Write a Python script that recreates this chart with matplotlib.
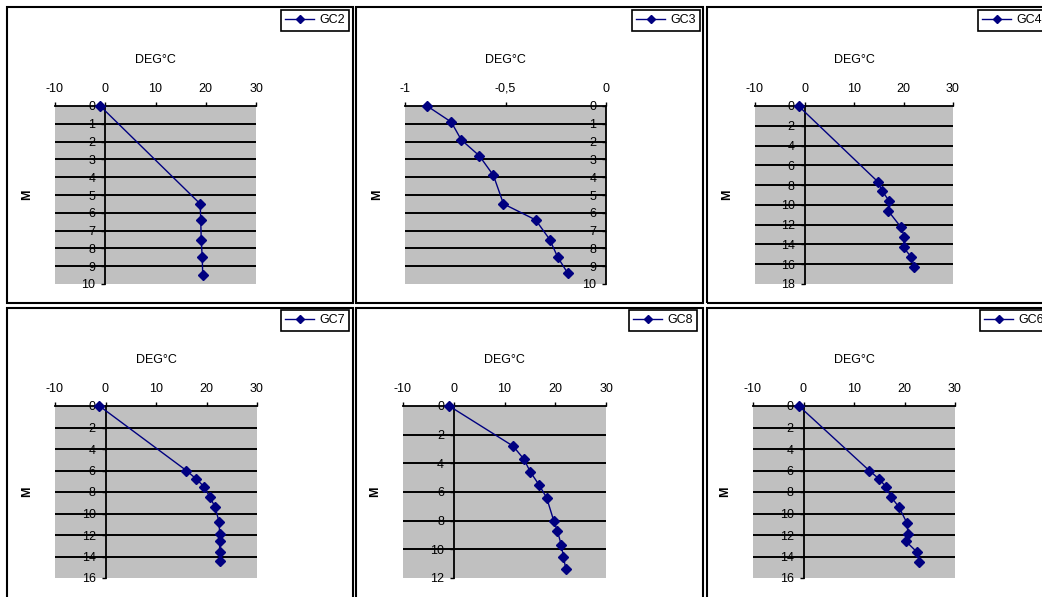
import matplotlib
matplotlib.use('Agg')
import matplotlib.pyplot as plt
from matplotlib.patches import Rectangle
from matplotlib import font_manager
import numpy as np

# ---------------- data ----------------
gc2_depth = [0, 5.5, 6.4, 7.5, 8.5, 9.5]
gc2_temp = [-1.0, 18.9, 19.0, 19.1, 19.3, 19.4]

gc3_depth = [0, 0.9, 1.9, 2.8, 3.9, 5.5, 6.4, 7.5, 8.5, 9.4]
gc3_temp = [-0.89, -0.77, -0.72, -0.63, -0.56, -0.51, -0.35, -0.28, -0.24, -0.19]

gc4_depth = [0, 7.7, 8.6, 9.6, 10.6, 12.2, 13.2, 14.3, 15.3, 16.3]
gc4_temp = [-1.2, 14.9, 15.7, 17.1, 16.9, 19.4, 20.2, 20.0, 21.6, 22.2]

gc7_depth = [0, 6.0, 6.8, 7.5, 8.5, 9.4, 10.8, 11.9, 12.6, 13.6, 14.4]
gc7_temp = [-1.2, 16.0, 18.0, 19.5, 20.7, 21.7, 22.5, 22.6, 22.6, 22.6, 22.6]

gc8_depth = [0, 2.8, 3.7, 4.6, 5.5, 6.4, 8.0, 8.7, 9.7, 10.5, 11.4]
gc8_temp = [-0.9, 11.7, 13.8, 15.1, 16.8, 18.3, 19.7, 20.4, 21.2, 21.6, 22.1]

gc6_depth = [0, 6.0, 6.8, 7.5, 8.5, 9.4, 10.9, 11.9, 12.6, 13.6, 14.5]
gc6_temp = [-0.9, 13.0, 15.0, 16.3, 17.4, 18.9, 20.5, 20.7, 20.3, 22.5, 22.9]

names = ['GC2', 'GC3', 'GC4', 'GC7', 'GC8', 'GC6']
depths = [gc2_depth, gc3_depth, gc4_depth, gc7_depth, gc8_depth, gc6_depth]
temps = [gc2_temp, gc3_temp, gc4_temp, gc7_temp, gc8_temp, gc6_temp]

temp_ticks_std = [-10, 0, 10, 20, 30]
temp_labels_std = ['-10', '0', '10', '20', '30']
temp_ticks_gc3 = [-1, -0.5, 0]
temp_labels_gc3 = ['-1', '-0,5', '0']
depth_max = [10, 10, 18, 16, 12, 16]
depth_step = [1, 1, 2, 2, 2, 2]

x_label = 'DEG°C'
y_label = 'M'

# ---------------- layout (pixels) ----------------
W, H = 1042, 597
plot_boxes = [  # left, right, top, bottom
    (55, 256, 106, 284),
    (405, 606, 106, 284),
    (755, 953, 106, 284),
    (55, 257, 406, 578),
    (403, 606, 406, 578),
    (753, 955, 406, 578),
]
panel_boxes = [  # left, right, top, bottom
    (7, 353, 7, 303),
    (356, 703, 7, 303),
    (707, 1060, 7, 303),
    (7, 353, 308, 620),
    (356, 703, 308, 620),
    (707, 1060, 308, 620),
]
legend_corner = [  # left, top of legend box
    (281, 10), (632, 10), (978, 10),
    (281, 310), (629, 310), (980, 310),
]

NAVY = '#000080'
GRAY = '#C0C0C0'
available = {f.name for f in font_manager.fontManager.ttflist}
FONT = 'Liberation Sans Narrow' if 'Liberation Sans Narrow' in available else 'Liberation Sans'
FS = 10 if FONT == 'Liberation Sans Narrow' else 9

plt.rcParams['font.family'] = [FONT, 'DejaVu Sans']

fig = plt.figure(figsize=(W / 100, H / 100), dpi=100)
fig.patch.set_facecolor('white')


def fxy(x, y):
    return x / W, 1 - y / H


for (pl, pr, pt, pb) in panel_boxes:
    x0, y1 = fxy(pl, pt)
    x1, y0 = fxy(pr, pb)
    fig.add_artist(Rectangle((x0, y0), x1 - x0, y1 - y0, transform=fig.transFigure,
                             fill=False, edgecolor='black', lw=1.5, zorder=0))

for i in range(6):
    l, r, t, b = plot_boxes[i]
    ax = fig.add_axes([l / W, 1 - b / H, (r - l) / W, (b - t) / H])
    ax.set_facecolor(GRAY)
    if names[i] == 'GC3':
        xt, xl = temp_ticks_gc3, temp_labels_gc3
    else:
        xt, xl = temp_ticks_std, temp_labels_std
    ax.set_xlim(xt[0], xt[-1])
    ax.set_ylim(depth_max[i], 0)
    yt = np.arange(0, depth_max[i] + 0.001, depth_step[i])
    ax.set_yticks(yt)
    ax.set_yticklabels([str(int(v)) for v in yt])
    ax.xaxis.tick_top()
    ax.set_xticks(xt)
    ax.set_xticklabels(xl)
    for v in yt[1:-1]:
        ax.axhline(v, color='black', lw=1.4, zorder=1)
    line, = ax.plot(temps[i], depths[i], color=NAVY, lw=1.0, marker='D', ms=5.5,
                    mfc=NAVY, mec=NAVY, label=names[i], zorder=4, clip_on=False)
    for s in ['right', 'bottom']:
        ax.spines[s].set_visible(False)
    ax.spines['top'].set_color('black')
    ax.spines['top'].set_linewidth(1.3)
    ax.spines['left'].set_position(('data', 0))
    ax.spines['left'].set_color('black')
    ax.spines['left'].set_linewidth(1.3)
    ax.spines['left'].set_zorder(3)
    ax.tick_params(axis='x', direction='out', length=3, width=1, pad=5,
                   labelsize=FS, top=True, bottom=False, labeltop=True, labelbottom=False)
    ax.tick_params(axis='y', direction='out', length=3, width=1, pad=4, labelsize=FS)

    cx = (l + r) / 2
    fx_, fy_ = fxy(cx, t - 46)
    fig.text(fx_, fy_, x_label, ha='center', va='center', fontsize=FS)
    fx_, fy_ = fxy(l - 28, (t + b) / 2)
    fig.text(fx_, fy_, y_label, ha='center', va='center', fontsize=FS, rotation=90,
             fontweight='bold')

    lx, ly = fxy(*legend_corner[i])
    leg = fig.legend(handles=[line], loc='upper left', bbox_to_anchor=(lx, ly),
                     bbox_transform=fig.transFigure, fontsize=FS, frameon=True,
                     fancybox=False, framealpha=1, edgecolor='black', borderpad=0.35,
                     handlelength=2.3, handletextpad=0.4, borderaxespad=0)
    leg.get_frame().set_linewidth(1.2)
    for h in leg.legend_handles:
        h.set_markersize(4.5)

fig.savefig('out.png', dpi=100, facecolor='white')
